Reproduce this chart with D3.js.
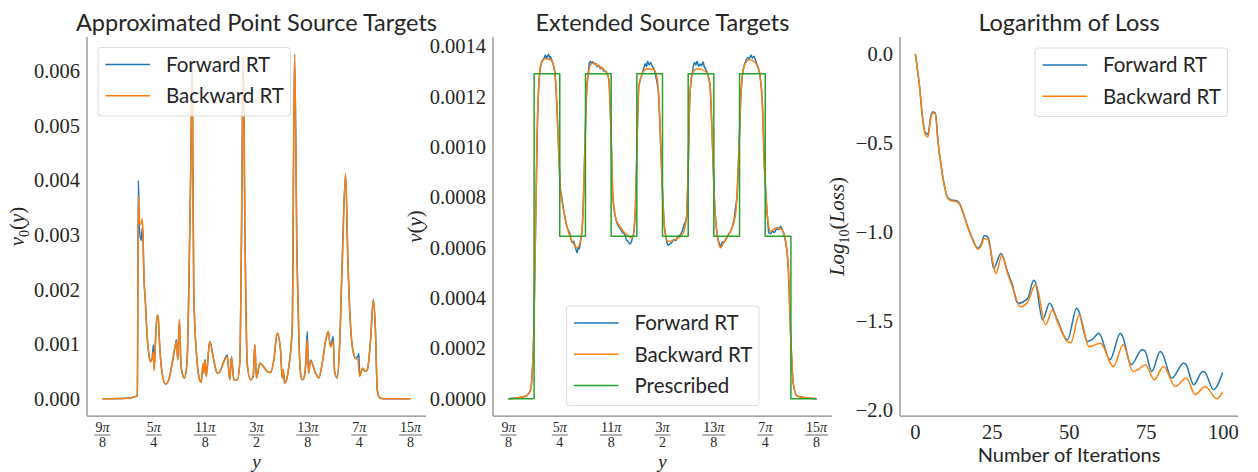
<!DOCTYPE html>
<html><head><meta charset="utf-8">
<script src="https://cdn.jsdelivr.net/npm/d3@7"></script>
<style>body{margin:0;background:#fff} svg{display:block}</style>
</head><body><div id="chart"></div>
<script>
// ---- data (x in units of pi/8) ----
var pointBackward = [[9.00,0],[9.48,0.00001],[9.64,0.00004],[9.68,0.00006],[9.70,0.0037],[9.727,0.0032],[9.755,0.0032],[9.773,0.0033],[9.79,0.0030],[9.805,0.00235],[9.838,0.00175],[9.871,0.00114],[9.902,0.00083],[9.935,0.00068],[9.968,0.00074],[9.99,0.00085],[10.007,0.00052],[10.04,0.0012],[10.066,0.00153],[10.085,0.0015],[10.116,0.00095],[10.163,0.00047],[10.227,0.00027],[10.292,0.00035],[10.358,0.00065],[10.422,0.00099],[10.442,0.00105],[10.467,0.00071],[10.50,0.00145],[10.525,0.00071],[10.553,0.00047],[10.597,0.00038],[10.65,0.00071],[10.681,0.00193],[10.72,0.0042],[10.748,0.0061],[10.76,0.0045],[10.779,0.00193],[10.831,0.00083],[10.884,0.00038],[10.923,0.0003],[10.962,0.00065],[10.973,0.00047],[11.0,0.0007],[11.02,0.00041],[11.09,0.00105],[11.168,0.00071],[11.235,0.00047],[11.266,0.00047],[11.363,0.00068],[11.429,0.00077],[11.48,0.00035],[11.513,0.00077],[11.558,0.00035],[11.624,0.00035],[11.675,0.00066],[11.708,0.0030],[11.741,0.00628],[11.776,0.0030],[11.819,0.00065],[11.883,0.00035],[11.936,0.00041],[11.967,0.00099],[12.0,0.00038],[12.064,0.00065],[12.111,0.00062],[12.209,0.0005],[12.273,0.00048],[12.338,0.00071],[12.403,0.0012],[12.468,0.00089],[12.501,0.00038],[12.52,0.00053],[12.546,0.00029],[12.585,0.00035],[12.63,0.00059],[12.696,0.0013],[12.741,0.00631],[12.79,0.0025],[12.824,0.00114],[12.857,0.00047],[12.89,0.00035],[12.922,0.00038],[12.955,0.00059],[12.988,0.00108],[13.013,0.00047],[13.052,0.00069],[13.15,0.00047],[13.214,0.00038],[13.28,0.00065],[13.344,0.00105],[13.397,0.00123],[13.442,0.00095],[13.494,0.00105],[13.52,0.0005],[13.572,0.00038],[13.617,0.00095],[13.67,0.00254],[13.734,0.00412],[13.779,0.00254],[13.832,0.00132],[13.876,0.00089],[13.929,0.00074],[13.974,0.00071],[14.007,0.00041],[14.071,0.00056],[14.11,0.0005],[14.157,0.00053],[14.221,0.00108],[14.274,0.0018],[14.313,0.00132],[14.352,0.00016],[14.396,0.00002],[14.48,0],[15.0,0]];
var pointForward = [[9.00,0],[9.48,0.00001],[9.64,0.00004],[9.68,0.00006],[9.70,0.0040],[9.72,0.0031],[9.754,0.0029],[9.779,0.00314],[9.79,0.0030],[9.805,0.00235],[9.838,0.00175],[9.871,0.00114],[9.902,0.00083],[9.935,0.00068],[9.968,0.00074],[9.994,0.00099],[10.007,0.00055],[10.04,0.0012],[10.066,0.00153],[10.085,0.0015],[10.116,0.00095],[10.163,0.00047],[10.227,0.00027],[10.292,0.00035],[10.358,0.00065],[10.422,0.00099],[10.442,0.00108],[10.467,0.00071],[10.50,0.00145],[10.525,0.00071],[10.553,0.00047],[10.597,0.00038],[10.65,0.00071],[10.681,0.00193],[10.72,0.0042],[10.748,0.0061],[10.76,0.0045],[10.779,0.00193],[10.831,0.00083],[10.884,0.00038],[10.923,0.0003],[10.962,0.00065],[10.973,0.00047],[11.0,0.00072],[11.02,0.00041],[11.09,0.00105],[11.168,0.00071],[11.235,0.00047],[11.266,0.00047],[11.363,0.00068],[11.429,0.0008],[11.48,0.00035],[11.513,0.00077],[11.558,0.00035],[11.624,0.00035],[11.675,0.00066],[11.708,0.0030],[11.741,0.00628],[11.776,0.0030],[11.819,0.00065],[11.883,0.00035],[11.936,0.00041],[11.967,0.00099],[12.0,0.00038],[12.064,0.00065],[12.111,0.00062],[12.209,0.0005],[12.273,0.00048],[12.338,0.00071],[12.403,0.0012],[12.468,0.00089],[12.501,0.00038],[12.52,0.00053],[12.546,0.00029],[12.585,0.00035],[12.63,0.00059],[12.696,0.0013],[12.741,0.00631],[12.79,0.0025],[12.824,0.00114],[12.857,0.00047],[12.89,0.00035],[12.922,0.00038],[12.955,0.00059],[12.988,0.00123],[13.013,0.00047],[13.052,0.00071],[13.15,0.00047],[13.214,0.00038],[13.28,0.00065],[13.344,0.00105],[13.397,0.00123],[13.442,0.00095],[13.494,0.00114],[13.52,0.0005],[13.572,0.00038],[13.617,0.00095],[13.67,0.00254],[13.734,0.00412],[13.779,0.00254],[13.832,0.00132],[13.876,0.00089],[13.929,0.00074],[13.974,0.00078],[13.993,0.00083],[14.007,0.00045],[14.071,0.00056],[14.11,0.0005],[14.157,0.00053],[14.221,0.00108],[14.274,0.00182],[14.313,0.00132],[14.352,0.00016],[14.396,0.00002],[14.48,0],[15.0,0]];

var extBackward = [[9.0,0],[9.33,0.00001],[9.43,0.000035],[9.494,0.00026],[9.526,0.00065],[9.559,0.00104],[9.59,0.00124],[9.637,0.00133],[9.721,0.00135],[9.818,0.001346],[9.883,0.00132],[9.916,0.00127],[9.948,0.00114],[9.98,0.00098],[10.013,0.00083],[10.066,0.00076],[10.143,0.00068],[10.241,0.000625],[10.338,0.0006],[10.403,0.000625],[10.448,0.00072],[10.487,0.00098],[10.514,0.00118],[10.553,0.00129],[10.63,0.001333],[10.759,0.00132],[10.89,0.0013],[10.954,0.00127],[11.0,0.00104],[11.032,0.00081],[11.085,0.00072],[11.182,0.00068],[11.312,0.00065],[11.41,0.00064],[11.474,0.00076],[11.507,0.00104],[11.539,0.00124],[11.605,0.00129],[11.702,0.00131],[11.832,0.001307],[11.897,0.00127],[11.948,0.00111],[11.994,0.00085],[12.039,0.00068],[12.104,0.000625],[12.22,0.00063],[12.384,0.00065],[12.468,0.00072],[12.507,0.00098],[12.532,0.0012],[12.578,0.00129],[12.676,0.00131],[12.838,0.0013],[12.922,0.00125],[12.968,0.00104],[13.013,0.00078],[13.066,0.00065],[13.13,0.0006],[13.208,0.000625],[13.325,0.000665],[13.422,0.00073],[13.487,0.00098],[13.52,0.00118],[13.572,0.001307],[13.682,0.001346],[13.779,0.00134],[13.876,0.001307],[13.942,0.00118],[13.987,0.00091],[14.04,0.00073],[14.104,0.000665],[14.234,0.00068],[14.332,0.00067],[14.396,0.000625],[14.449,0.00052],[14.494,0.00026],[14.546,0.00006],[14.624,0.00001],[15.0,0]];
var extForward = [[9.0,0],[9.33,0.00001],[9.43,0.000035],[9.494,0.00026],[9.526,0.00065],[9.559,0.00104],[9.59,0.00124],[9.637,0.00133],[9.67,0.001345],[9.70,0.001355],[9.72,0.001365],[9.74,0.001352],[9.76,0.00136],[9.785,0.001368],[9.80,0.001352],[9.818,0.001358],[9.85,0.00134],[9.883,0.00132],[9.916,0.00127],[9.948,0.00114],[9.98,0.00098],[10.013,0.00083],[10.04,0.0008],[10.066,0.00076],[10.1,0.00072],[10.143,0.00068],[10.19,0.00066],[10.241,0.00062],[10.27,0.000625],[10.3,0.000605],[10.32,0.00059],[10.338,0.00058],[10.36,0.0006],[10.38,0.000595],[10.403,0.000625],[10.43,0.00066],[10.448,0.00072],[10.487,0.00098],[10.514,0.00118],[10.553,0.00129],[10.58,0.001335],[10.6,0.00134],[10.62,0.00133],[10.645,0.001338],[10.67,0.001328],[10.70,0.001332],[10.73,0.001318],[10.76,0.001324],[10.79,0.00131],[10.82,0.001316],[10.85,0.001302],[10.89,0.0013],[10.954,0.00127],[11.0,0.00104],[11.032,0.00081],[11.085,0.00072],[11.13,0.00069],[11.182,0.000675],[11.22,0.00066],[11.26,0.000655],[11.3,0.00063],[11.33,0.000625],[11.36,0.000615],[11.39,0.00062],[11.41,0.000635],[11.44,0.00066],[11.474,0.00076],[11.507,0.00104],[11.539,0.00124],[11.605,0.00129],[11.64,0.001315],[11.67,0.00133],[11.69,0.001318],[11.71,0.00134],[11.74,0.001325],[11.77,0.001335],[11.8,0.00132],[11.832,0.00131],[11.86,0.00129],[11.897,0.00125],[11.92,0.00122],[11.948,0.0011],[11.994,0.00085],[12.039,0.00068],[12.07,0.00064],[12.104,0.00061],[12.14,0.000615],[12.18,0.00062],[12.22,0.000632],[12.26,0.000628],[12.3,0.000645],[12.34,0.00065],[12.384,0.000665],[12.42,0.00069],[12.468,0.00072],[12.507,0.00098],[12.532,0.0012],[12.578,0.00129],[12.6,0.00132],[12.625,0.001335],[12.65,0.001325],[12.675,0.00134],[12.7,0.00132],[12.73,0.001328],[12.76,0.001322],[12.79,0.001338],[12.81,0.00132],[12.838,0.00131],[12.922,0.00125],[12.968,0.00104],[13.013,0.00078],[13.066,0.00065],[13.1,0.00062],[13.13,0.000605],[13.16,0.00062],[13.208,0.000625],[13.25,0.00064],[13.29,0.000655],[13.325,0.000665],[13.37,0.00069],[13.4,0.00072],[13.422,0.00076],[13.45,0.0008],[13.487,0.00098],[13.52,0.00118],[13.572,0.001307],[13.62,0.00134],[13.66,0.001355],[13.69,0.001348],[13.72,0.001365],[13.75,0.001352],[13.779,0.00136],[13.81,0.001345],[13.85,0.00132],[13.876,0.001307],[13.942,0.00118],[13.987,0.00091],[14.04,0.00073],[14.07,0.00066],[14.104,0.000655],[14.14,0.000665],[14.18,0.00066],[14.22,0.000675],[14.26,0.000672],[14.3,0.000685],[14.332,0.00067],[14.396,0.000625],[14.449,0.00052],[14.494,0.00026],[14.546,0.00006],[14.624,0.00001],[15.0,0]];

// prescribed density: level starting at each edge
var prescribedEdges  = [9, 9.5, 10, 10.5, 11, 11.5, 12, 12.5, 13, 13.5, 14, 14.5, 15];
var prescribedLevels = [0, 0.00129, 0.000645, 0.00129, 0.000645, 0.00129, 0.000645, 0.00129, 0.000645, 0.00129, 0.000645, 0, 0];

var lossForward = [[0,0],[1.4,-0.187],[2.3,-0.35],[3.2,-0.44],[4.1,-0.45],[5,-0.35],[5.7,-0.325],[6.5,-0.33],[7.3,-0.48],[8.4,-0.63],[9.5,-0.744],[10.6,-0.808],[11.6,-0.818],[13.3,-0.823],[14.3,-0.836],[15.4,-0.884],[17,-0.968],[18.7,-1.043],[20.3,-1.09],[21.3,-1.07],[22.4,-1.02],[23.5,-1.025],[24.3,-1.08],[25.4,-1.203],[27.8,-1.119],[30,-1.225],[31.6,-1.3],[33.2,-1.399],[36.5,-1.371],[38.4,-1.269],[39,-1.28],[41.3,-1.492],[43.6,-1.399],[46.1,-1.492],[49.4,-1.604],[52.4,-1.427],[53,-1.44],[55.9,-1.614],[57.5,-1.6],[59.6,-1.567],[63.2,-1.716],[66.6,-1.567],[67.2,-1.58],[70.1,-1.744],[73.6,-1.66],[74.5,-1.665],[76.8,-1.782],[79.5,-1.67],[80,-1.675],[83.3,-1.819],[87.1,-1.735],[87.8,-1.74],[90.4,-1.856],[93.3,-1.782],[94,-1.785],[96.8,-1.884],[99.8,-1.787]];
var lossBackward = [[0,0],[1.4,-0.187],[2.3,-0.355],[3.2,-0.45],[4.1,-0.465],[5,-0.36],[5.7,-0.33],[6.5,-0.336],[7.3,-0.485],[8.4,-0.635],[9.5,-0.746],[10.6,-0.811],[11.6,-0.823],[13.3,-0.828],[14.3,-0.842],[15.4,-0.888],[17,-0.972],[18.7,-1.047],[20.3,-1.095],[21.3,-1.078],[22.4,-1.035],[23.5,-1.04],[24.3,-1.09],[25.2,-1.17],[26.2,-1.231],[28.1,-1.128],[30,-1.235],[31.6,-1.31],[34.1,-1.418],[36.5,-1.39],[39.1,-1.292],[42.3,-1.52],[44.5,-1.436],[46.1,-1.5],[49.4,-1.614],[50.5,-1.62],[53.2,-1.464],[56.4,-1.642],[58,-1.635],[60.1,-1.623],[64.3,-1.754],[67.5,-1.632],[70.7,-1.782],[72.5,-1.77],[74.7,-1.744],[77.6,-1.828],[80.6,-1.754],[84.4,-1.866],[88,-1.819],[90.9,-1.912],[94.1,-1.866],[97.9,-1.935],[99.8,-1.899]];

var piTicks = [9, 10, 11, 12, 13, 14, 15];
var piTickNum = ["9", "5", "11", "3", "13", "7", "15"];
var piTickDen = ["8", "4", "8", "2", "8", "4", "8"];
var pointTicks = [0, 0.001, 0.002, 0.003, 0.004, 0.005, 0.006];
var extTicks = [0, 0.0002, 0.0004, 0.0006, 0.0008, 0.001, 0.0012, 0.0014];
var lossTicks = [-2, -1.5, -1, -0.5, 0];
var iterTicks = [0, 25, 50, 75, 100];

// ---- drawing ----
var W = 1258, H = 472, TOP = 37, BOT = 416;
var TEXT = "#262626", SPINE = "#8a8a8a";
var serif = "'Liberation Serif', 'DejaVu Serif', serif", sans = "Lato, 'Open Sans', sans-serif";
var blue = "#1f77b4", orange = "#ff7f0e", green = "#2ca02c";

var svg = d3.select("#chart").append("svg").attr("width", W).attr("height", H);

function padded(ext){ var p = (ext[1]-ext[0])*0.05; return [ext[0]-p, ext[1]+p]; }

function panel(o){
    var allPts = d3.merge(o.series.map(function(s){ return s.data; }));
    var x = d3.scaleLinear().domain(padded(d3.extent(allPts, function(d){ return d[0]; }))).range([o.left, o.right]);
    var y = d3.scaleLinear().domain(padded(d3.extent(allPts, function(d){ return d[1]; }))).range([BOT, TOP]);
    var g = svg.append("g");

    o.series.forEach(function(s){
        var line = d3.line().x(function(d){ return x(d[0]); }).y(function(d){ return y(d[1]); })
            .curve(s.curve || d3.curveMonotoneX);
        g.append("path").attr("d", line(s.data)).attr("fill", "none")
            .attr("stroke", s.color).attr("stroke-width", 1.5).attr("stroke-linejoin", "round");
    });

    // spines
    g.append("line").attr("x1", o.left).attr("x2", o.left).attr("y1", TOP).attr("y2", BOT)
        .attr("stroke", SPINE).attr("stroke-width", 1.25);
    g.append("line").attr("x1", o.left).attr("x2", o.right).attr("y1", BOT).attr("y2", BOT)
        .attr("stroke", SPINE).attr("stroke-width", 1.25);

    // y tick labels
    g.selectAll(".yt").data(o.yTicks).enter().append("text")
        .attr("x", o.left - 7).attr("y", function(d){ return y(d); }).attr("dy", "0.34em")
        .attr("text-anchor", "end").style("font-family", serif).style("font-size", "20.5px")
        .attr("fill", TEXT).text(o.yFormat);

    // x tick labels
    if (o.piTicks) {
        o.xTicks.forEach(function(t, i){
            var cx = x(t);
            var num = g.append("text").attr("x", cx).attr("y", 431.5).attr("text-anchor", "middle")
                .style("font-family", serif).style("font-size", "14px").attr("fill", TEXT);
            num.append("tspan").text(piTickNum[i]);
            num.append("tspan").style("font-style", "italic").text("π");
            var w = num.node().getComputedTextLength();
            g.append("line").attr("x1", cx - w/2 - 1).attr("x2", cx + w/2 + 1)
                .attr("y1", 435).attr("y2", 435).attr("stroke", TEXT).attr("stroke-width", 0.7);
            g.append("text").attr("x", cx).attr("y", 447).attr("text-anchor", "middle")
                .style("font-family", serif).style("font-size", "14px").attr("fill", TEXT)
                .text(piTickDen[i]);
        });
    } else {
        g.selectAll(".xt").data(o.xTicks).enter().append("text")
            .attr("x", function(d){ return x(d); }).attr("y", 438.5).attr("text-anchor", "middle")
            .style("font-family", serif).style("font-size", "20.5px").attr("fill", TEXT)
            .text(function(d){ return d; });
    }

    // title
    g.append("text").attr("x", (o.left + o.right)/2).attr("y", 31).attr("text-anchor", "middle")
        .style("font-family", sans).style("font-size", "23.5px").attr("fill", TEXT).text(o.title);

    // x label
    if (o.xLabelMath) {
        g.append("text").attr("x", (o.left + o.right)/2).attr("y", 467.5).attr("text-anchor", "middle")
            .style("font-family", serif).style("font-size", "19px").style("font-style", "italic")
            .attr("fill", TEXT).text(o.xLabelMath);
    } else {
        g.append("text").attr("x", (o.left + o.right)/2).attr("y", 462).attr("text-anchor", "middle")
            .style("font-family", sans).style("font-size", "20px").attr("fill", TEXT).text(o.xLabel);
    }

    // y label (math, rotated)
    var yl = g.append("text").attr("transform", "translate(" + o.yLabelX + "," + ((TOP + BOT)/2) + ") rotate(-90)")
        .attr("text-anchor", "middle").style("font-family", serif).style("font-size", "21px").attr("fill", TEXT);
    o.yLabel.forEach(function(p){
        var t = yl.append("tspan").text(p.t);
        if (p.it) t.style("font-style", "italic");
        if (p.sub) t.style("font-size", "14px").attr("dy", "5");
        if (p.unsub) t.attr("dy", "-5");
    });

    // legend
    var L = o.legend, lg = g.append("g");
    lg.append("rect").attr("x", L.x).attr("y", L.y).attr("width", 192.5).attr("height", 20 + o.series.length * 31.2 - 14)
        .attr("rx", 3).attr("fill", "#fff").attr("fill-opacity", 0.8).attr("stroke", "#dcdcdc").attr("stroke-width", 1);
    o.series.forEach(function(s, i){
        var ry = L.y + 17 + i * 31.2;
        lg.append("line").attr("x1", L.x + 7.5).attr("x2", L.x + 52).attr("y1", ry).attr("y2", ry)
            .attr("stroke", s.color).attr("stroke-width", 1.5);
        lg.append("text").attr("x", L.x + 68).attr("y", ry + 7.3).style("font-family", sans)
            .style("font-size", "20.5px").attr("fill", TEXT).text(s.name);
    });
}

panel({
    left: 87, right: 426, title: "Approximated Point Source Targets",
    series: [
        {name: "Forward RT", color: blue, data: pointForward},
        {name: "Backward RT", color: orange, data: pointBackward}
    ],
    yTicks: pointTicks, yFormat: d3.format(".3f"),
    piTicks: true, xTicks: piTicks, xLabelMath: "y",
    yLabelX: 24, yLabel: [{t: "ν", it: true}, {t: "0", sub: true}, {t: "(", unsub: true}, {t: "y", it: true}, {t: ")"}],
    legend: {x: 98, y: 47.5}
});

var prescribed = prescribedEdges.map(function(e, i){ return [e, prescribedLevels[i]]; });
panel({
    left: 493, right: 832, title: "Extended Source Targets",
    series: [
        {name: "Forward RT", color: blue, data: extForward},
        {name: "Backward RT", color: orange, data: extBackward},
        {name: "Prescribed", color: green, data: prescribed, curve: d3.curveStepAfter}
    ],
    yTicks: extTicks, yFormat: d3.format(".4f"),
    piTicks: true, xTicks: piTicks, xLabelMath: "y",
    yLabelX: 422, yLabel: [{t: "ν", it: true}, {t: "("}, {t: "y", it: true}, {t: ")"}],
    legend: {x: 566.5, y: 306}
});

panel({
    left: 900, right: 1238, title: "Logarithm of Loss",
    series: [
        {name: "Forward RT", color: blue, data: lossForward},
        {name: "Backward RT", color: orange, data: lossBackward}
    ],
    yTicks: lossTicks, yFormat: d3.format(".1f"),
    piTicks: false, xTicks: iterTicks, xLabel: "Number of Iterations",
    yLabelX: 844, yLabel: [{t: "Log", it: true}, {t: "10", sub: true}, {t: "(", unsub: true}, {t: "Loss", it: true}, {t: ")"}],
    legend: {x: 1035, y: 48}
});
</script>
</body></html>
